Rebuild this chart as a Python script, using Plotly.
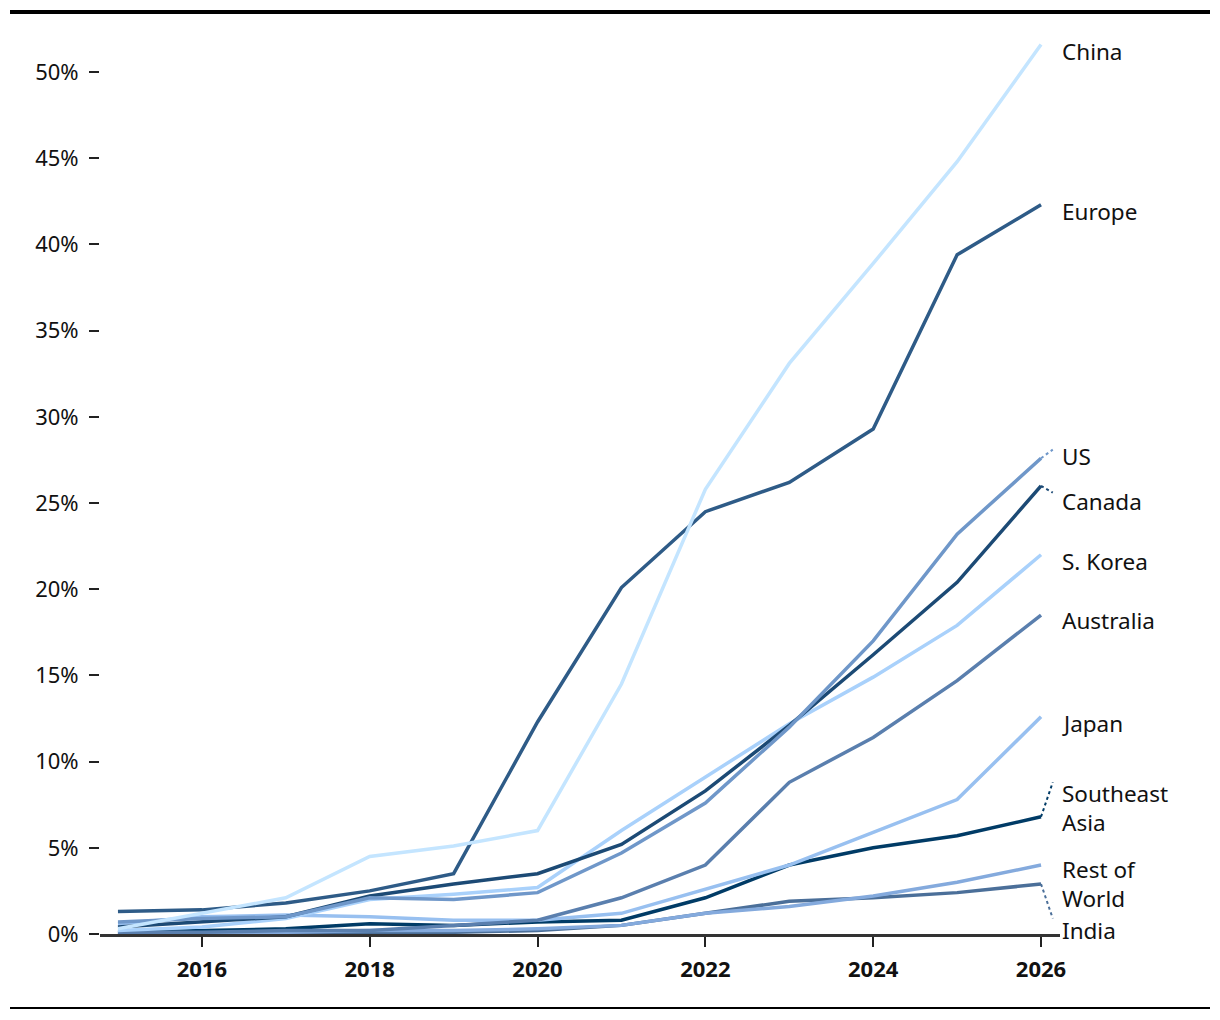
import plotly.graph_objects as go

years = list(range(2015, 2027))

series_names = ["China", "Europe", "US", "Canada", "S. Korea", "Australia",
                "Japan", "Southeast Asia", "Rest of World", "India"]

china = [0.3, 1.2, 2.1, 4.5, 5.1, 6.0, 14.5, 25.8, 33.1, 38.9, 44.8, 51.6]
europe = [1.3, 1.4, 1.8, 2.5, 3.5, 12.3, 20.1, 24.5, 26.2, 29.3, 39.4, 42.3]
us = [0.7, 0.9, 1.0, 2.1, 2.0, 2.4, 4.7, 7.6, 12.0, 17.0, 23.2, 27.6]
canada = [0.4, 0.7, 1.0, 2.2, 2.9, 3.5, 5.2, 8.3, 12.1, 16.2, 20.4, 26.0]
s_korea = [0.2, 0.4, 0.9, 2.0, 2.3, 2.7, 6.0, 9.1, 12.2, 14.9, 17.9, 22.0]
australia = [0.1, 0.1, 0.2, 0.2, 0.5, 0.8, 2.1, 4.0, 8.8, 11.4, 14.7, 18.5]
japan = [0.6, 1.0, 1.1, 1.0, 0.8, 0.8, 1.2, 2.6, 4.0, 5.9, 7.8, 12.6]
se_asia = [0.1, 0.2, 0.3, 0.6, 0.5, 0.7, 0.8, 2.1, 4.0, 5.0, 5.7, 6.8]
rest_world = [0.1, 0.1, 0.1, 0.2, 0.2, 0.3, 0.5, 1.2, 1.6, 2.2, 3.0, 4.0]
india = [0.0, 0.0, 0.0, 0.1, 0.1, 0.2, 0.5, 1.2, 1.9, 2.1, 2.4, 2.9]

values = [china, europe, us, canada, s_korea, australia, japan, se_asia, rest_world, india]

colors = ["#c4e5ff", "#2e5b87", "#6f97c9", "#1c4a75", "#a9d1fb", "#5a7fae",
          "#98c0f0", "#003b66", "#84aadd", "#4b6f99"]

label_texts = ["China", "Europe", "US", "Canada", "S. Korea", "Australia",
               "Japan", "Southeast<br>Asia", "Rest of<br>World", "India"]
label_y = [51.2, 41.9, 27.7, 25.1, 21.6, 18.2, 12.2, 7.3, 2.9, 0.2]
# which labels get a dotted leader line, and where the leader ends
leader_end_y = {"US": 28.1, "Canada": 25.6, "Southeast Asia": 8.8, "India": 0.9}

y_ticks = list(range(0, 55, 5))
y_tick_labels = [f"{v}%" for v in y_ticks]
x_ticks = list(range(2016, 2027, 2))

fig = go.Figure()

draw_order = [9, 8, 7, 6, 5, 4, 3, 2, 1, 0]
for i in draw_order:
    fig.add_trace(go.Scatter(
        x=years, y=values[i], mode="lines", name=series_names[i],
        line=dict(color=colors[i], width=3.5), hoverinfo="skip", showlegend=False))

# leader lines
for i, name in enumerate(series_names):
    if name in leader_end_y:
        fig.add_trace(go.Scatter(
            x=[years[-1], years[-1] + 0.14], y=[values[i][-1], leader_end_y[name]],
            mode="lines", line=dict(color=colors[i], width=2, dash="dot"),
            hoverinfo="skip", showlegend=False))

for i, txt in enumerate(label_texts):
    fig.add_annotation(x=2026.226, y=label_y[i], xref="x", yref="y", text=txt,
                       showarrow=False, xanchor="left", yanchor="middle", align="left",
                       font=dict(family="Noto Sans", size=22.5, color="#111"))

fig.update_layout(
    width=1220, height=1020,
    margin=dict(l=92, r=168, t=21, b=94),
    paper_bgcolor="white", plot_bgcolor="white",
    font=dict(family="Noto Sans", size=22, color="#111"),
    xaxis=dict(range=[2014.786, 2026.226], tickmode="array", tickvals=x_ticks,
               ticks="outside", ticklen=10, tickwidth=1.5, tickcolor="#222",
               showline=True, linecolor="#333", linewidth=3, showgrid=False,
               zeroline=False, ticklabelstandoff=4,
               tickfont=dict(family="Noto Sans", size=22, color="#111", weight="bold")),
    yaxis=dict(range=[0, 52.5], tickmode="array", tickvals=y_ticks, ticktext=y_tick_labels,
               ticks="outside", ticklen=10, tickwidth=1.5, tickcolor="#222",
               showline=False, showgrid=False, zeroline=False, ticklabelstandoff=6,
               tickfont=dict(family="Noto Sans", size=22, color="#111")),
    shapes=[
        dict(type="line", xref="paper", yref="paper", x0=-0.09375, x1=1.15625,
             y0=1.0188, y1=1.0188, line=dict(color="black", width=4)),
        dict(type="line", xref="paper", yref="paper", x0=-0.09375, x1=1.15625,
             y0=-0.0818, y1=-0.0818, line=dict(color="black", width=2)),
    ],
)

fig.write_html("out.html")
